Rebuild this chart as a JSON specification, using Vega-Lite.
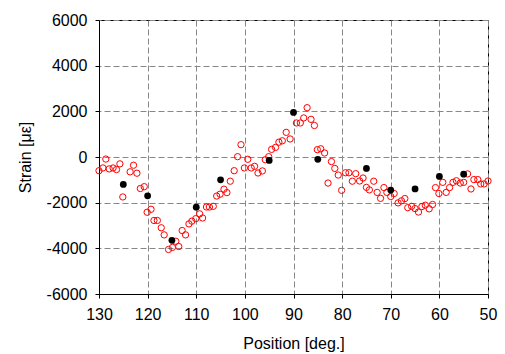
{
  "$schema": "https://vega.github.io/schema/vega-lite/v6.json",
  "width": 389,
  "height": 274,
  "autosize": "none",
  "padding": {"left": 99, "top": 20, "right": 17, "bottom": 60},
  "background": "white",
  "config": {
    "view": {"stroke": "black", "strokeWidth": 1},
    "font": "Liberation Sans",
    "axis": {
      "labelFont": "Liberation Sans",
      "titleFont": "Liberation Sans",
      "labelFontSize": 16,
      "titleFontSize": 16,
      "titleFontWeight": "normal",
      "labelColor": "black",
      "titleColor": "black",
      "domainColor": "black",
      "tickColor": "black",
      "tickSize": 4,
      "gridColor": "#888888",
      "gridDash": [6, 3],
      "gridWidth": 1,
      "gridOpacity": 1
    }
  },
  "datasets": {
    "red": [
      {"pos": 130.0, "strain": -600}, {"pos": 129.2, "strain": -480}, {"pos": 128.6, "strain": -90},
      {"pos": 127.9, "strain": -520}, {"pos": 127.1, "strain": -480}, {"pos": 126.4, "strain": -550},
      {"pos": 125.7, "strain": -300}, {"pos": 125.1, "strain": -1750}, {"pos": 123.6, "strain": -650},
      {"pos": 122.9, "strain": -360}, {"pos": 122.2, "strain": -710}, {"pos": 121.5, "strain": -1380},
      {"pos": 120.7, "strain": -1300}, {"pos": 120.1, "strain": -2420}, {"pos": 119.3, "strain": -2290},
      {"pos": 118.7, "strain": -2780}, {"pos": 118.0, "strain": -2780}, {"pos": 117.2, "strain": -3100},
      {"pos": 116.6, "strain": -3410}, {"pos": 115.7, "strain": -4050}, {"pos": 114.9, "strain": -3960},
      {"pos": 114.2, "strain": -3690}, {"pos": 113.6, "strain": -3920}, {"pos": 112.9, "strain": -3220},
      {"pos": 112.2, "strain": -3410}, {"pos": 111.5, "strain": -2930}, {"pos": 110.9, "strain": -2810},
      {"pos": 110.1, "strain": -2700}, {"pos": 109.3, "strain": -2490}, {"pos": 108.7, "strain": -2670},
      {"pos": 107.9, "strain": -2190}, {"pos": 107.3, "strain": -2190}, {"pos": 106.5, "strain": -2160},
      {"pos": 105.8, "strain": -1710}, {"pos": 105.1, "strain": -1630}, {"pos": 104.3, "strain": -1410},
      {"pos": 103.7, "strain": -1560}, {"pos": 103.0, "strain": -1060}, {"pos": 102.2, "strain": -600},
      {"pos": 101.5, "strain": 15}, {"pos": 100.8, "strain": 540}, {"pos": 100.1, "strain": -480},
      {"pos": 99.4, "strain": -100}, {"pos": 98.7, "strain": -480}, {"pos": 98.0, "strain": -410},
      {"pos": 97.3, "strain": -700}, {"pos": 96.4, "strain": -610}, {"pos": 95.8, "strain": -120},
      {"pos": 95.1, "strain": 15}, {"pos": 94.5, "strain": 335}, {"pos": 93.7, "strain": 420},
      {"pos": 93.0, "strain": 650}, {"pos": 92.3, "strain": 710}, {"pos": 91.5, "strain": 1080},
      {"pos": 90.7, "strain": 790}, {"pos": 89.4, "strain": 1490}, {"pos": 88.6, "strain": 1490},
      {"pos": 87.9, "strain": 1710}, {"pos": 87.2, "strain": 2160}, {"pos": 86.4, "strain": 1650},
      {"pos": 85.7, "strain": 1380}, {"pos": 85.1, "strain": 320}, {"pos": 84.4, "strain": 360},
      {"pos": 83.6, "strain": 175}, {"pos": 82.9, "strain": -1140}, {"pos": 82.2, "strain": -200},
      {"pos": 81.5, "strain": -500}, {"pos": 80.8, "strain": -790}, {"pos": 80.1, "strain": -1460},
      {"pos": 79.3, "strain": -690}, {"pos": 78.6, "strain": -690}, {"pos": 77.9, "strain": -1060},
      {"pos": 77.2, "strain": -730}, {"pos": 76.4, "strain": -1050}, {"pos": 75.7, "strain": -920},
      {"pos": 75.0, "strain": -1330}, {"pos": 74.4, "strain": -1440}, {"pos": 73.5, "strain": -1060},
      {"pos": 72.8, "strain": -1550}, {"pos": 72.1, "strain": -1810}, {"pos": 71.4, "strain": -1340},
      {"pos": 70.8, "strain": -1550}, {"pos": 70.0, "strain": -1730}, {"pos": 69.3, "strain": -1600},
      {"pos": 68.5, "strain": -2010}, {"pos": 67.8, "strain": -1920}, {"pos": 67.1, "strain": -1820},
      {"pos": 66.5, "strain": -2220}, {"pos": 65.7, "strain": -2160}, {"pos": 65.0, "strain": -2260},
      {"pos": 64.3, "strain": -2410}, {"pos": 63.6, "strain": -2170}, {"pos": 62.9, "strain": -2110},
      {"pos": 62.1, "strain": -2270}, {"pos": 61.4, "strain": -2080}, {"pos": 60.8, "strain": -1340},
      {"pos": 60.1, "strain": -1600}, {"pos": 59.3, "strain": -1110}, {"pos": 58.6, "strain": -1550},
      {"pos": 57.9, "strain": -1340}, {"pos": 57.2, "strain": -1110}, {"pos": 56.5, "strain": -1040},
      {"pos": 55.7, "strain": -1140}, {"pos": 55.0, "strain": -1110}, {"pos": 54.2, "strain": -740},
      {"pos": 53.5, "strain": -1400}, {"pos": 52.9, "strain": -990}, {"pos": 52.1, "strain": -990},
      {"pos": 51.5, "strain": -1180}, {"pos": 50.8, "strain": -1180}, {"pos": 50.0, "strain": -1050}
    ],
    "black": [
      {"pos": 125, "strain": -1200}, {"pos": 120, "strain": -1700}, {"pos": 115, "strain": -3650},
      {"pos": 110, "strain": -2200}, {"pos": 105, "strain": -1000}, {"pos": 95, "strain": -150},
      {"pos": 90, "strain": 1950}, {"pos": 85, "strain": -100}, {"pos": 75, "strain": -500},
      {"pos": 70, "strain": -1450}, {"pos": 65, "strain": -1400}, {"pos": 60, "strain": -850},
      {"pos": 55, "strain": -750}
    ]
  },
  "encoding": {
    "x": {
      "field": "pos", "type": "quantitative",
      "scale": {"domain": [50, 130], "reverse": true, "nice": false, "zero": false},
      "axis": {"values": [50, 60, 70, 80, 90, 100, 110, 120, 130], "labelExpr": "datum.value + ''", "title": "Position [deg.]", "labelPadding": 8, "titlePadding": 13, "labelFlush": false}
    },
    "y": {
      "field": "strain", "type": "quantitative",
      "scale": {"domain": [-6000, 6000], "nice": false, "zero": false},
      "axis": {"values": [-6000, -4000, -2000, 0, 2000, 4000, 6000], "labelExpr": "datum.value + ''", "title": "Strain [με]", "labelPadding": 8, "titlePadding": 13, "labelFlush": false}
    }
  },
  "layer": [
    {
      "data": {"name": "red"},
      "mark": {"type": "point", "shape": "circle", "filled": false, "stroke": "#ff0000", "strokeWidth": 1, "size": 40, "opacity": 1}
    },
    {
      "data": {"name": "black"},
      "mark": {"type": "point", "shape": "circle", "filled": true, "fill": "black", "size": 46, "opacity": 1}
    }
  ]
}
